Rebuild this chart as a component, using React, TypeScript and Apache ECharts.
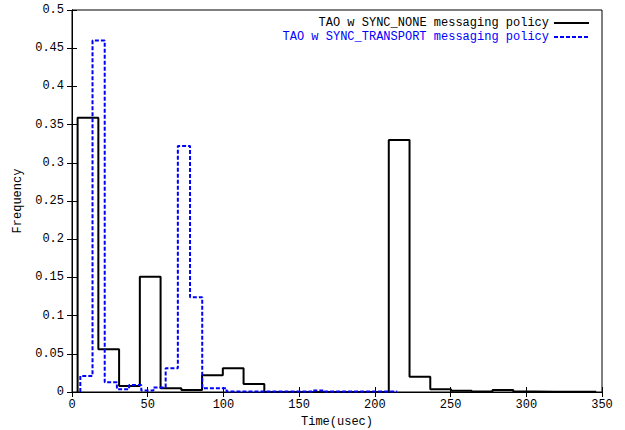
import React, { useEffect, useRef } from "react";
import * as echarts from "echarts";

// Histogram bins (Time in usec) and frequencies
const noneBinStart = 3.7;
const noneBinWidth = 13.7;
const noneFreq = [
  0.359, 0.056, 0.008, 0.151, 0.005, 0.0025, 0.022, 0.031, 0.0105, 0, 0, 0, 0, 0, 0,
  0.33, 0.02, 0.0035, 0.0017, 0.0005, 0.0026, 0.0005, 0.0003, 0.0003, 0.0003,
];

const transportBinStart = 5.5;
const transportBinWidth = 8.05;
const transportFreq = [
  0.021, 0.46, 0.0127, 0.0035, 0.009, 0.002, 0.006, 0.031, 0.322, 0.124, 0.005, 0.005,
  0.0005, 0.0005, 0.0005, 0.0005, 0.0005, 0.0005, 0.0005, 0.002, 0.0005, 0.0005, 0.0005,
  0.0005, 0.0005, 0.0005,
];

const seriesNames = [
  "TAO w SYNC_NONE messaging policy",
  "TAO w SYNC_TRANSPORT messaging policy",
];

const xTicks = { min: 0, max: 350, interval: 50 };
const yTicks = { min: 0, max: 0.5, interval: 0.05 };

function stepPoints(start: number, width: number, vals: number[]) {
  const pts: [number, number][] = [[start, 0]];
  vals.forEach((v, i) => pts.push([start + i * width, v]));
  const end = start + vals.length * width;
  pts.push([end, vals[vals.length - 1]]);
  pts.push([end, 0]);
  return pts;
}

const FONT = "'Liberation Mono', 'DejaVu Sans Mono', monospace";

export default function App() {
  const ref = useRef<HTMLDivElement>(null);
  useEffect(() => {
    if (!ref.current) return;
    const chart = echarts.init(ref.current, null, { renderer: "svg" });
    const axisCommon = {
      type: "value" as const,
      axisLine: { show: true, lineStyle: { color: "#000", width: 1 } },
      axisTick: { show: true, inside: true, length: 5, lineStyle: { color: "#000" } },
      splitLine: { show: false },
    };
    chart.setOption({
      animation: false,
      backgroundColor: "#fff",
      textStyle: { fontFamily: FONT },
      grid: {
        left: 72, right: 23, top: 10, bottom: 38,
        outerBoundsMode: "none",
        containLabel: false,
        show: true, borderColor: "#000", borderWidth: 1, backgroundColor: "transparent",
      },
      legend: {
        orient: "vertical",
        align: "right",
        right: 30,
        top: 12,
        itemWidth: 35,
        itemHeight: 10,
        itemGap: 2,
        itemStyle: { opacity: 0 },
        textStyle: { fontFamily: FONT, fontSize: 12, lineHeight: 12 },
        data: [
          { name: seriesNames[0], textStyle: { color: "#000" } },
          { name: seriesNames[1], textStyle: { color: "#0000ff" } },
        ],
      },
      xAxis: [
        {
          ...axisCommon,
          ...xTicks,
          position: "bottom",
          name: "Time(usec)",
          nameLocation: "middle",
          nameGap: 24,
          nameTextStyle: { fontFamily: FONT, fontSize: 12, color: "#000" },
          axisLabel: { fontFamily: FONT, fontSize: 12, color: "#000", margin: 7 },
        },
        {
          ...axisCommon,
          ...xTicks,
          position: "top",
          axisLabel: { show: false },
        },
      ],
      yAxis: [
        {
          ...axisCommon,
          ...yTicks,
          position: "left",
          name: "Frequency",
          nameLocation: "middle",
          nameGap: 48,
          nameRotate: 90,
          nameTextStyle: { fontFamily: FONT, fontSize: 12, color: "#000" },
          axisLabel: { fontFamily: FONT, fontSize: 12, color: "#000", margin: 8 },
        },
        {
          ...axisCommon,
          ...yTicks,
          position: "right",
          axisLabel: { show: false },
        },
      ],
      series: [
        {
          name: seriesNames[0],
          type: "line",
          step: "end",
          symbol: "none",
          xAxisIndex: 0,
          yAxisIndex: 0,
          color: "#000",
          lineStyle: { color: "#000", width: 2 },
          data: stepPoints(noneBinStart, noneBinWidth, noneFreq),
          z: 2,
        },
        {
          name: seriesNames[1],
          type: "line",
          step: "end",
          symbol: "none",
          xAxisIndex: 0,
          yAxisIndex: 0,
          color: "#0000ff",
          lineStyle: { color: "#0000ff", width: 2, type: [4, 2] },
          data: stepPoints(transportBinStart, transportBinWidth, transportFreq),
          z: 3,
        },
      ],
    });
    return () => chart.dispose();
  }, []);
  return <div ref={ref} style={{ width: 625, height: 430, position: "absolute", left: 0, top: 0 }} />;
}
